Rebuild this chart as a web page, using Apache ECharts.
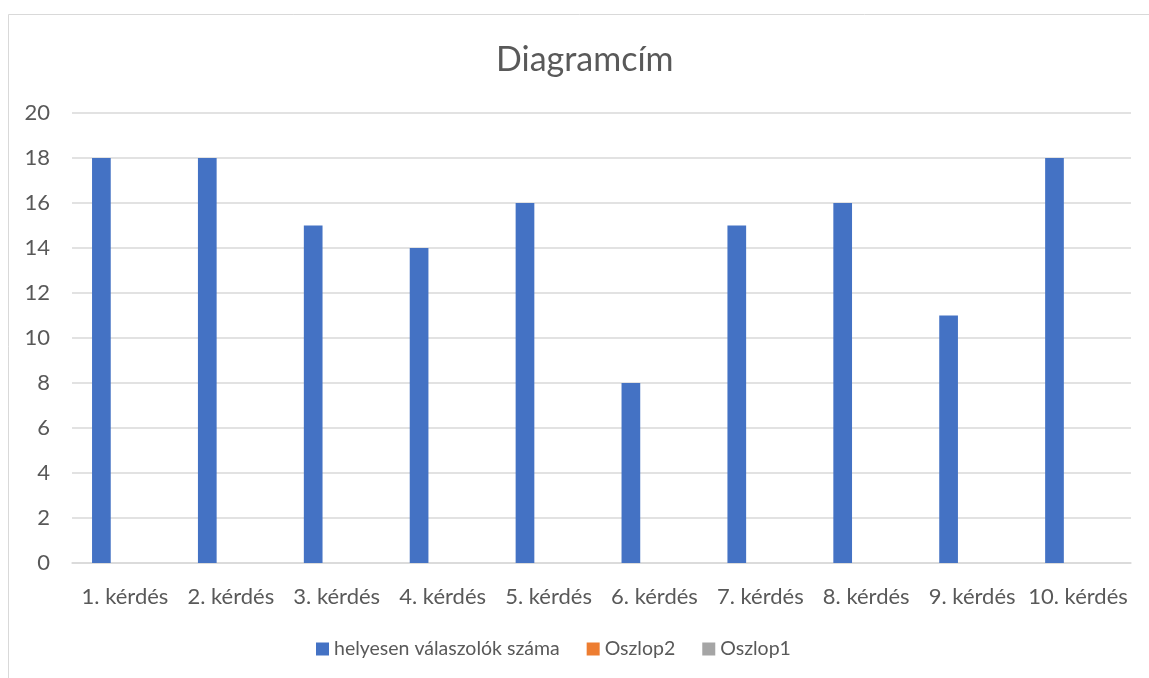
<!DOCTYPE html>
<html>
<head>
<meta charset="utf-8">
<script src="https://cdn.jsdelivr.net/npm/echarts@6/dist/echarts.min.js"></script>
<style>
html,body{margin:0;padding:0;background:#fff;}
#c{width:1149px;height:678px;}
</style>
</head>
<body>
<div id="c"></div>
<script>
var categories = ['1. kérdés','2. kérdés','3. kérdés','4. kérdés','5. kérdés','6. kérdés','7. kérdés','8. kérdés','9. kérdés','10. kérdés'];
var seriesNames = ['helyesen válaszolók száma','Oszlop2','Oszlop1'];
var helyesen = [18,18,15,14,16,8,15,16,11,18];
var oszlop2 = [null,null,null,null,null,null,null,null,null,null];
var oszlop1 = [null,null,null,null,null,null,null,null,null,null];
var titleText = 'Diagramcím';

var FONT = 'Lato, "Open Sans", sans-serif';
var chart = echarts.init(document.getElementById('c'), null, {renderer:'canvas'});
chart.setOption({
  animation:false,
  backgroundColor:'#ffffff',
  color:['#4472c4','#ed7d31','#a5a5a5'],
  graphic:[{type:'rect',silent:true,z:-1,shape:{x:8.5,y:14.5,width:1300,height:800},style:{fill:'none',stroke:'#d9d9d9',lineWidth:1}}],
  title:{text:titleText,left:491,top:38,textStyle:{fontFamily:FONT,fontWeight:'normal',fontSize:34,color:'#595959'}},
  legend:{bottom:14,left:311,itemWidth:13,itemHeight:13,itemGap:27,icon:'rect',
    textStyle:{fontFamily:FONT,fontSize:19.5,color:'#595959',padding:[0,0,0,0]},data:seriesNames},
  grid:{left:72,right:18,top:113,bottom:115,containLabel:false},
  xAxis:{type:'category',data:categories,
    axisLine:{lineStyle:{color:'#d9d9d9',width:1.5}},axisTick:{show:false},
    axisLabel:{fontFamily:FONT,fontSize:22,color:'#595959',margin:23,interval:0}},
  yAxis:{type:'value',min:0,max:20,interval:2,
    axisLine:{show:false},axisTick:{show:false},
    splitLine:{lineStyle:{color:'#d9d9d9',width:1.5}},
    axisLabel:{fontFamily:FONT,fontSize:22,color:'#595959',margin:22}},
  series:[
    {name:seriesNames[0],type:'bar',data:helyesen,barWidth:18.7,barGap:'26%'},
    {name:seriesNames[1],type:'bar',data:oszlop2,barWidth:18.7,barGap:'26%'},
    {name:seriesNames[2],type:'bar',data:oszlop1,barWidth:18.7,barGap:'26%'}
  ]
});
</script>
</body>
</html>
